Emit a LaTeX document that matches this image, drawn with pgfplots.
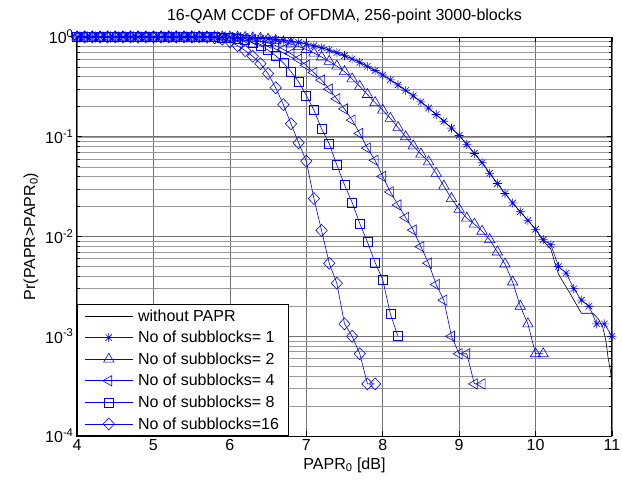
\documentclass[border=0pt]{standalone}
\usepackage{fontspec}
\setmainfont{Liberation Sans}
\usepackage{pgfplots}
\pgfplotsset{compat=1.18}
\usepackage{pgfplotstable}
\usetikzlibrary{plotmarks}

% MATLAB-like eight-armed star
\pgfdeclareplotmark{mstar}{%
  \pgfpathmoveto{\pgfqpoint{-\pgfplotmarksize}{0pt}}\pgfpathlineto{\pgfqpoint{\pgfplotmarksize}{0pt}}%
  \pgfpathmoveto{\pgfqpoint{0pt}{-\pgfplotmarksize}}\pgfpathlineto{\pgfqpoint{0pt}{\pgfplotmarksize}}%
  \pgfpathmoveto{\pgfqpoint{-.707\pgfplotmarksize}{-.707\pgfplotmarksize}}\pgfpathlineto{\pgfqpoint{.707\pgfplotmarksize}{.707\pgfplotmarksize}}%
  \pgfpathmoveto{\pgfqpoint{-.707\pgfplotmarksize}{.707\pgfplotmarksize}}\pgfpathlineto{\pgfqpoint{.707\pgfplotmarksize}{-.707\pgfplotmarksize}}%
  \pgfusepathqstroke}

\newcommand\fs{\fontsize{16}{19}\selectfont}

% CCDF, 0.1 dB steps
\pgfplotstableread{
x    s1      s2       s4       s8       s16
4.0  1       1        1        1        1
4.1  1       1        1        1        1
4.2  1       1        1        1        1
4.3  1       1        1        1        1
4.4  1       1        1        1        1
4.5  1       1        1        1        1
4.6  1       1        1        1        1
4.7  1       1        1        1        1
4.8  1       1        1        1        1
4.9  1       1        1        1        1
5.0  1       1        1        1        1
5.1  1       1        1        1        1
5.2  1       1        1        1        1
5.3  1       1        1        1        1
5.4  1       1        1        1        1
5.5  1       1        1        1        1
5.6  1       1        1        1        1
5.7  1       1        1        1        0.995
5.8  0.999   1        1        0.998    0.98
5.9  0.997   1        0.997    0.99     0.95
6.0  0.995   0.998    0.99     0.98     0.90
6.1  0.992   0.995    0.98     0.96     0.82
6.2  0.987   0.99     0.965    0.93     0.73
6.3  0.981   0.98     0.94     0.88     0.64
6.4  0.973   0.97     0.91     0.82     0.54
6.5  0.962   0.95     0.87     0.74     0.43
6.6  0.947   0.92     0.82     0.65     0.31
6.7  0.929   0.89     0.75     0.55     0.21
6.8  0.908   0.85     0.68     0.45     0.135
6.9  0.882   0.80     0.60     0.356    0.087
7.0  0.852   0.75     0.52     0.26     0.057
7.1  0.818   0.69     0.44     0.185    0.024
7.2  0.780   0.63     0.37     0.12     0.0115
7.3  0.739   0.57     0.30     0.085    0.0054
7.4  0.696   0.51     0.24     0.052    0.0034
7.5  0.651   0.45     0.19     0.033    0.00133
7.6  0.603   0.38     0.147    0.022    0.0010
7.7  0.556   0.32     0.108    0.0135   0.000667
7.8  0.508   0.265    0.077    0.0088   0.000333
7.9  0.461   0.22     0.058    0.0055   0.000333
8.0  0.416   0.185    0.040    0.0037   nan
8.1  0.372   0.153    0.028    0.00167  nan
8.2  0.331   0.124    0.0207   0.0010   nan
8.3  0.292   0.100    0.0155   nan      nan
8.4  0.257   0.081    0.0116   nan      nan
8.5  0.224   0.067    0.0079   nan      nan
8.6  0.194   0.056    0.0054   nan      nan
8.7  0.167   0.043    0.0033   nan      nan
8.8  0.143   0.032    0.0023   nan      nan
8.9  0.122   0.024    0.0010   nan      nan
9.0  0.103   0.0187   0.000667 nan      nan
9.1  0.084   0.0153   0.000667 nan      nan
9.2  0.068   0.0133   0.000333 nan      nan
9.3  0.055   0.0113   0.000333 nan      nan
9.4  0.043   0.0093   nan      nan      nan
9.5  0.034   0.0070   nan      nan      nan
9.6  0.027   0.0053   nan      nan      nan
9.7  0.0217  0.0035   nan      nan      nan
9.8  0.0177  0.0020   nan      nan      nan
9.9  0.0145  0.00133  nan      nan      nan
10.0 0.0118  0.000667 nan      nan      nan
10.1 0.0093  0.000667 nan      nan      nan
10.2 0.0083  nan      nan      nan      nan
10.3 0.0050  nan      nan      nan      nan
10.4 0.0043  nan      nan      nan      nan
10.5 0.0030  nan      nan      nan      nan
10.6 0.0023  nan      nan      nan      nan
10.7 0.0020  nan      nan      nan      nan
10.8 0.00133 nan      nan      nan      nan
10.9 0.00133 nan      nan      nan      nan
11.0 0.0010  nan      nan      nan      nan
}\ccdf

% tail of the curve without PAPR reduction
\pgfplotstableread{
x     p
10.0  0.0118
10.1  0.0090
10.2  0.0075
10.25 0.0055
10.3  0.0042
10.35 0.0036
10.45 0.0027
10.6  0.0017
10.75 0.0017
10.82 0.0015
10.88 0.00123
10.92 0.0009
10.95 0.0006
10.98 0.00045
11.0  0.00033
}\tail

\begin{document}
\begin{tikzpicture}
\useasboundingbox (-77pt,-46pt) rectangle (545pt,436pt);
\begin{axis}[
  scale only axis, width=535pt, height=399pt,
  at={(0,0)}, anchor=south west,
  xmin=4, xmax=11, ymode=log, ymin=1e-4, ymax=1,
  xtick={4,5,...,11},
  ytick={1e-4,1e-3,1e-2,1e-1,1},
  yticklabels={10\textsuperscript{-4},10\textsuperscript{-3},10\textsuperscript{-2},10\textsuperscript{-1},10\textsuperscript{0}},
  ticklabel style={font=\fs},
  /pgf/number format/assume math mode=true,
  grid=both,
  major grid style={black!55, line width=0.6pt},
  minor grid style={black!40, line width=0.5pt},
  tick align=inside, major tick length=5pt, minor tick length=3pt,
  tick style={black, line width=0.6pt},
  axis line style={black, line width=1pt},
  clip=false,
  title={16-QAM CCDF of OFDMA, 256-point 3000-blocks},
  title style={font=\fs, yshift=4pt},
  xlabel={PAPR\textsubscript{0} [dB]},
  ylabel={Pr(PAPR>PAPR\textsubscript{0})},
  xlabel style={font=\fs},
  ylabel style={font=\fs},
  legend cell align=left,
  legend style={at={(0,0)}, anchor=south west, draw=black, line width=1pt,
    fill=white, font=\fs, inner xsep=7pt, inner ysep=3pt, row sep=4.5pt,
    /tikz/every odd column/.append style={column sep=3pt}},
  legend image code/.code={\draw[mark repeat=2,mark phase=2,#1] plot coordinates {(0pt,0pt) (24pt,0pt) (48pt,0pt)};},
  every axis plot/.append style={line width=0.6pt},
]
\addplot[black, no marks] table[x=x, y=s1, restrict x to domain=4:10.01] {\ccdf};
\addlegendentry{without PAPR}
\addplot[black, no marks, forget plot] table[x=x, y=p] {\tail};
\addplot[blue, mark=mstar, mark size=4.5pt] table[x=x, y=s1] {\ccdf};
\addlegendentry{No of subblocks= 1}
\addplot[blue, mark=triangle, mark size=6pt] table[x=x, y=s2] {\ccdf};
\addlegendentry{No of subblocks= 2}
\addplot[blue, mark=triangle, mark size=6pt, mark options={rotate=90}] table[x=x, y=s4] {\ccdf};
\addlegendentry{No of subblocks= 4}
\addplot[blue, mark=square, mark size=4.5pt] table[x=x, y=s8] {\ccdf};
\addlegendentry{No of subblocks= 8}
\addplot[blue, mark=diamond, mark size=6pt, mark options={xscale=1.25}] table[x=x, y=s16] {\ccdf};
\addlegendentry{No of subblocks=16}
\end{axis}
\end{tikzpicture}
\end{document}
